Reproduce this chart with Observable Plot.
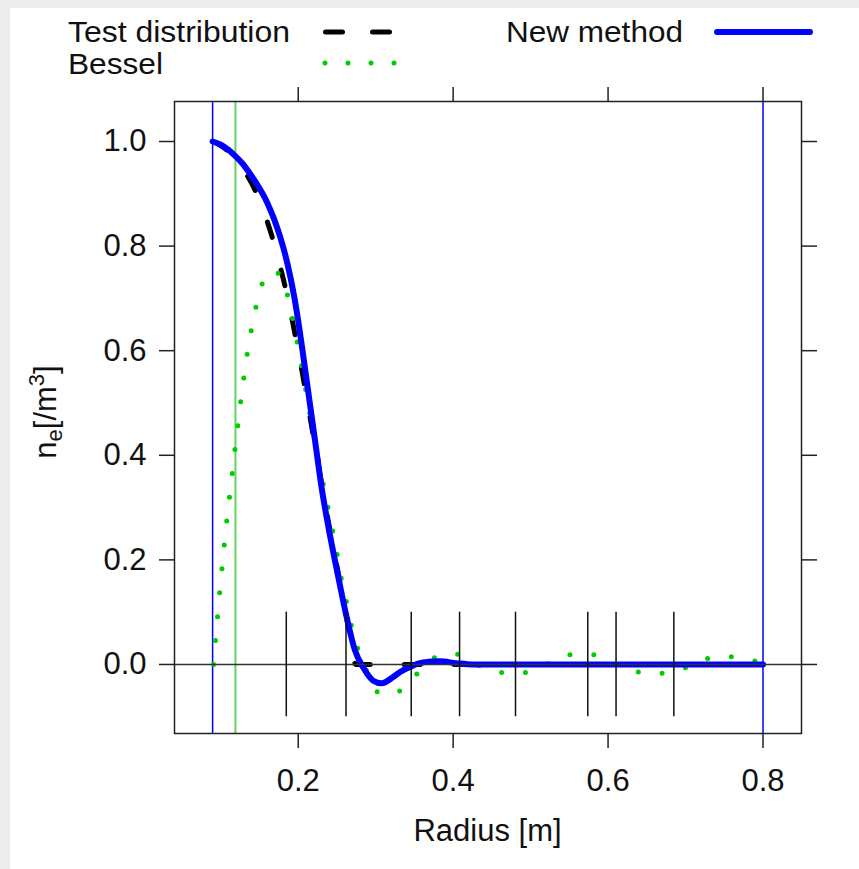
<!DOCTYPE html>
<html><head><meta charset="utf-8">
<script src="https://cdn.jsdelivr.net/npm/d3@7"></script>
<script src="https://cdn.jsdelivr.net/npm/@observablehq/plot@0.6"></script>
<style>
body{margin:0;background:#ececec;}
#wrap{position:absolute;left:10px;top:8px;width:849px;height:861px;background:#fff;}
#wrap svg{display:block;}
svg text{font-family:"Liberation Sans",Arial,Helvetica,sans-serif;}
</style></head><body>
<div id="wrap"><svg id="legend" width="849" height="72"></svg><div id="chart"></div></div>
<script>
// ---- data ----
const testR = [0.09,0.105,0.12,0.132,0.145,0.155,0.165,0.175,0.185,0.195,0.205,0.215,0.225,0.235,0.245,0.255,0.262,0.267,0.271,0.274,0.8];
const testN = [1.0,0.987,0.965,0.94,0.905,0.868,0.824,0.771,0.71,0.638,0.56,0.475,0.39,0.305,0.225,0.15,0.095,0.05,0.018,0.0,0.0];

const newR = [0.0895,0.10,0.11,0.1168,0.128,0.138,0.149,0.1597,0.1685,0.1768,0.1835,0.1897,0.1955,0.2005,0.207,0.2145,0.222,0.23,0.24,0.25,0.2626,0.2733,0.284,0.2968,0.3077,0.3226,0.331,0.344,0.361,0.3826,0.404,0.425,0.8];
const newN = [1.0,0.994,0.984,0.975,0.958,0.938,0.913,0.884,0.853,0.817,0.782,0.742,0.698,0.652,0.585,0.505,0.425,0.34,0.255,0.18,0.09,0.027,-0.006,-0.031,-0.036,-0.024,-0.015,-0.005,0.004,0.006,0.0025,0.0,0.0];

const besselR = [0.0907,0.0932,0.0958,0.0985,0.1015,0.1045,0.1078,0.1112,0.1148,0.1183,0.122,0.1258,0.1297,0.1342,0.1393,0.1455,0.1535,0.162,0.170,0.178,0.185,0.195,0.205,0.215,0.225,0.235,0.2446,0.2498,0.2553,0.2617,0.2681,0.2759,0.2875,0.2999,0.313,0.327,0.34,0.352,0.363,0.374,0.388,0.4036,0.418,0.431,0.445,0.4605,0.476,0.4915,0.506,0.52,0.535,0.549,0.565,0.5805,0.595,0.609,0.623,0.638,0.653,0.669,0.684,0.699,0.713,0.728,0.744,0.759,0.774,0.789,0.8];
const besselN = [0.0,0.046,0.091,0.136,0.182,0.228,0.275,0.319,0.365,0.411,0.456,0.503,0.547,0.594,0.639,0.684,0.728,0.749,0.753,0.738,0.712,0.645,0.565,0.48,0.40,0.325,0.255,0.2147,0.1669,0.1224,0.0778,0.0344,-0.01,-0.05,-0.058,-0.054,-0.038,-0.02,-0.003,0.011,0.019,0.020,0.012,0.0,-0.01,-0.015,-0.018,-0.016,-0.009,0.0,0.011,0.018,0.021,0.019,0.011,0.0,-0.009,-0.014,-0.018,-0.017,-0.013,-0.0065,0.003,0.011,0.016,0.015,0.012,0.0067,0.0];

const limitR = [0.0895, 0.8];      // blue vertical lines
const cutR = [0.119];              // green vertical line
const knotR = [0.1846,0.2617,0.3459,0.4083,0.4805,0.5738,0.6103,0.6849];
const knotSpan = [-0.1, 0.1];
const zeroN = [0];

const xTicks = [0.2,0.4,0.6,0.8];
const yTicks = [0.0,0.2,0.4,0.6,0.8,1.0];
const xDomain = [0.0403, 0.8497];
const yDomain = [-0.132, 1.0765];

const legendItems = [
  {label:"Test distribution", kind:"dash"},
  {label:"New method", kind:"solid"},
  {label:"Bessel", kind:"dot"}
];

// ---- tables ----
const toRows = (xs, ys) => xs.map((r,i)=>({r, n: ys[i]}));
const testData = toRows(testR, testN);
const newData = toRows(newR, newN);
const besselData = toRows(besselR, besselN);

const FONT = "Liberation Sans, Arial, Helvetica, sans-serif";
const W = 849, H = 789, mT = 21, mB = 136, mL = 164, mR = 58;

const plot = Plot.plot({
  width: W, height: H,
  marginTop: mT, marginBottom: mB, marginLeft: mL, marginRight: mR,
  x: {domain: xDomain},
  y: {domain: yDomain},
  style: {fontFamily: FONT, fontSize: "31px", color: "#111", background: "transparent", overflow: "visible"},
  marks: [
    Plot.ruleX(cutR, {stroke: "#5fd55f", strokeWidth: 2}),
    Plot.ruleX(limitR, {stroke: "#0000ff", strokeWidth: 1.5}),
    Plot.line(testData, {x: "r", y: "n", stroke: "#000", strokeWidth: 5, strokeDasharray: "16 34", strokeLinecap: "round", curve: "monotone-x"}),
    Plot.line(besselData, {x: "r", y: "n", stroke: "#00cc00", strokeWidth: 5, strokeDasharray: "0 24", strokeLinecap: "round", curve: "monotone-x"}),
    Plot.line(newData, {x: "r", y: "n", stroke: "#0000ff", strokeWidth: 6, strokeLinecap: "round", curve: "monotone-x"}),
    Plot.ruleY(zeroN, {stroke: "#333", strokeWidth: 1.5}),
    Plot.ruleX(knotR, {y1: knotSpan[0], y2: knotSpan[1], stroke: "#111", strokeWidth: 1.5}),
    Plot.frame({stroke: "#222", strokeWidth: 1.5}),
    Plot.axisX({anchor: "bottom", ticks: xTicks, tickFormat: d3.format(".1f"), tickSize: 15, tickPadding: 20, stroke: "#222", strokeWidth: 1.5, label: null, fontSize: 31}),
    Plot.axisX({anchor: "top", ticks: xTicks, tickFormat: () => "", tickSize: 15, stroke: "#222", strokeWidth: 1.5, label: null}),
    Plot.axisY({anchor: "left", ticks: yTicks, tickFormat: d3.format(".1f"), tickSize: 15, tickPadding: 13, stroke: "#222", strokeWidth: 1.5, label: null, fontSize: 31}),
    Plot.axisY({anchor: "right", ticks: yTicks, tickFormat: () => "", tickSize: 15, stroke: "#222", strokeWidth: 1.5, label: null})
  ]
});
document.getElementById("chart").appendChild(plot);

// axis titles
const svg = d3.select(plot);
const cx = mL + (W - mL - mR) / 2;
const cy = mT + (H - mT - mB) / 2;
svg.append("text").attr("x", cx).attr("y", H - mB + 108)
  .attr("text-anchor", "middle").attr("font-size", 31).attr("fill", "#111")
  .attr("font-family", FONT).text("Radius [m]");
const yl = svg.append("text").attr("transform", `translate(46,${cy - 5}) rotate(-90)`)
  .attr("text-anchor", "middle").attr("font-size", 31).attr("fill", "#111").attr("font-family", FONT);
yl.append("tspan").text("n");
yl.append("tspan").attr("font-size", 22).attr("dy", 6).text("e");
yl.append("tspan").attr("dy", -6).text("[/m");
yl.append("tspan").attr("font-size", 22).attr("dy", -12).text("3");
yl.append("tspan").attr("dy", 12).text("]");

// legend
const lg = d3.select("#legend");
const lx = [58, 496, 58], ly = [34, 34, 66];
const lw = [222, 177, 95];
const sx = [[315.5, 379.5], [707, 800], [315, 385]], sy = [24, 24, 55];
legendItems.forEach((d, i) => {
  lg.append("text").attr("x", lx[i]).attr("y", ly[i]).attr("font-size", 29).attr("fill", "#111")
    .attr("font-family", FONT).attr("textLength", lw[i]).attr("lengthAdjust", "spacingAndGlyphs").text(d.label);
  const ln = lg.append("line").attr("x1", sx[i][0]).attr("x2", sx[i][1]).attr("y1", sy[i]).attr("y2", sy[i]).attr("stroke-linecap", "round");
  if (d.kind === "dash") ln.attr("stroke", "#000").attr("stroke-width", 5).attr("stroke-dasharray", "17 30");
  if (d.kind === "solid") ln.attr("stroke", "#0000ff").attr("stroke-width", 6);
  if (d.kind === "dot") ln.attr("stroke", "#00cc00").attr("stroke-width", 5).attr("stroke-dasharray", "0 23");
});
</script>
</body></html>
